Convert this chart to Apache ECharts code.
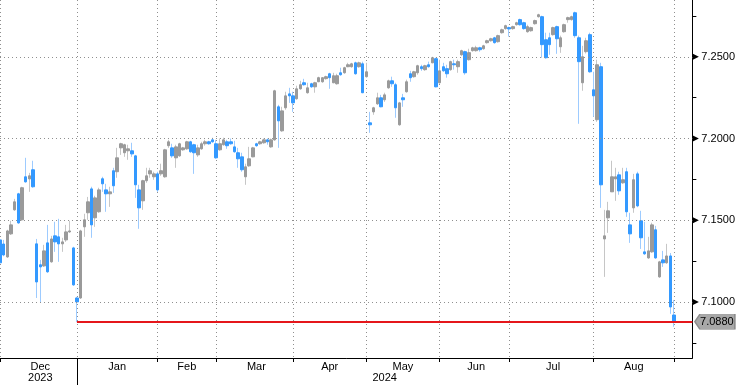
<!DOCTYPE html>
<html><head><meta charset="utf-8">
<script src="https://cdn.jsdelivr.net/npm/echarts@6/dist/echarts.min.js"></script>
<style>html,body{margin:0;padding:0;background:#fff}#c{width:738px;height:385px}</style>
</head><body><div id="c"></div>
<script>
// ---- data ----
const monthNames = ['Dec','Jan','Feb','Mar','Apr','May','Jun','Jul','Aug','Sep'];
const tradingDays = [21,22,16,21,20,20,19,23,22,1];
const yearLabels = ['2023','2024'];
const yTickLabels = [7.10,7.15,7.20,7.25];
const yMinorTicks = [7.075,7.125,7.175,7.225,7.275];
const lastPrice = 7.0880;
const opens = [
7.138,7.1355,7.1276,7.1417,7.1564,7.1662,7.1503,7.1766,7.1753,7.1809,
7.1356,7.1228,7.1221,7.1362,7.1246,7.1405,7.1399,7.1356,7.138,7.1429,
7.1331,7.1025,7.1025,7.146,7.1546,7.1692,7.1515,7.1552,7.1754,7.1686,
7.1662,7.1803,7.1797,7.1943,7.1913,7.1925,7.1925,7.1894,7.1686,7.1619,
7.1742,7.1784,7.1766,7.1784,7.1784,7.1766,7.1956,7.1943,7.1882,7.1894,
7.1931,7.1937,7.198,7.1962,7.19,7.1937,7.1968,7.198,7.1992,7.1968,
7.1931,7.1962,7.198,7.198,7.1949,7.1913,7.1888,7.1766,7.1833,7.1888,
7.1968,7.1968,7.1974,7.1992,7.1949,7.1992,7.2194,7.2047,7.2188,7.2273,
7.2261,7.2243,7.2304,7.2341,7.228,7.2335,7.2316,7.2347,7.2347,7.2366,
7.2396,7.2341,7.2335,7.2402,7.2402,7.2439,7.2439,7.2463,7.2439,7.2457,
7.2378,7.2096,7.2163,7.2212,7.2249,7.2237,7.231,7.2353,7.2329,7.2084,
7.2249,7.2286,7.2396,7.2378,7.2402,7.2439,7.2421,7.2451,7.2463,7.2488,
7.2341,7.2439,7.2427,7.2421,7.2457,7.2439,7.2512,7.2531,7.2482,7.2537,
7.2537,7.2555,7.2549,7.2586,7.2598,7.2616,7.2592,7.2647,7.2672,7.2678,
7.2672,7.2696,7.2727,7.2708,7.2653,7.2659,7.2702,7.2745,7.2745,7.2604,
7.2616,7.2635,7.2684,7.2561,7.2653,7.2727,7.2727,7.2769,7.2616,7.2341,
7.2531,7.2635,7.2298,7.2115,7.2439,7.1386,7.1515,7.1674,7.1753,7.1778,
7.1729,7.1797,7.1472,7.1576,7.1784,7.1497,7.1307,7.127,7.1307,7.1442,
7.1154,7.1258,7.124,7.1282,7.0921];
const closes = [
7.124,7.1288,7.1435,7.1472,7.1613,7.1484,7.1699,7.1735,7.1772,7.1705,
7.1123,7.1215,7.1313,7.1185,7.1386,7.1368,7.1356,7.1368,7.1429,7.1435,
7.1105,7.1001,7.1435,7.1503,7.1613,7.1472,7.1637,7.1686,7.1723,7.1662,
7.1674,7.1711,7.1882,7.1968,7.1962,7.1937,7.1906,7.1717,7.1576,7.1742,
7.1772,7.1803,7.1784,7.1686,7.1803,7.1931,7.198,7.1894,7.1949,7.1968,
7.1943,7.198,7.1919,7.1913,7.1943,7.1968,7.198,7.1968,7.198,7.1882,
7.1968,7.1992,7.1956,7.1968,7.1919,7.1876,7.1809,7.1827,7.1876,7.1943,
7.1956,7.198,7.1992,7.198,7.1992,7.2292,7.2108,7.2169,7.2261,7.2261,
7.2218,7.2304,7.2329,7.2329,7.231,7.2316,7.2341,7.2372,7.2372,7.2378,
7.2372,7.2384,7.2384,7.239,7.2433,7.2451,7.2457,7.2396,7.2463,7.228,
7.2408,7.2084,7.2188,7.2249,7.2194,7.2267,7.2353,7.2335,7.2188,7.2218,
7.2237,7.2347,7.2372,7.2408,7.2445,7.2427,7.2445,7.2439,7.2494,7.2316,
7.2414,7.2414,7.2396,7.247,7.2451,7.247,7.2537,7.2402,7.2525,7.2555,
7.2555,7.2543,7.2567,7.2598,7.261,7.2586,7.2629,7.2665,7.269,7.267,
7.2684,7.2708,7.2696,7.2672,7.2684,7.2678,7.2721,7.2757,7.2574,7.2494,
7.2574,7.2678,7.261,7.2616,7.2696,7.2739,7.2745,7.2629,7.247,7.25,
7.2598,7.2408,7.2261,7.2451,7.1717,7.1405,7.1558,7.1766,7.1766,7.168,
7.1748,7.1552,7.1417,7.1748,7.1588,7.1393,7.1295,7.1313,7.1472,7.127,
7.1246,7.124,7.1282,7.097,7.088];
const lows = [
7.120,7.128,7.127,7.141,7.1558,7.1478,7.1497,7.173,7.1674,7.1699,
7.1025,7.0995,7.1215,7.1178,7.124,7.1307,7.1246,7.1307,7.1368,7.1423,
7.1099,7.0879,7.1019,7.1399,7.1503,7.1393,7.146,7.1546,7.1674,7.1552,
7.1582,7.1668,7.176,7.19,7.1888,7.187,7.1888,7.1637,7.1448,7.1564,
7.1729,7.176,7.1748,7.1674,7.1772,7.176,7.1943,7.1882,7.1821,7.1888,
7.1925,7.1931,7.1913,7.1784,7.1888,7.1931,7.1956,7.1962,7.1974,7.1876,
7.1925,7.1956,7.1937,7.1962,7.1913,7.1821,7.1797,7.1717,7.1827,7.1885,
7.1949,7.1962,7.1968,7.1962,7.1943,7.1986,7.1943,7.2041,7.2176,7.2218,
7.2163,7.2237,7.2298,7.2323,7.2274,7.231,7.228,7.2345,7.2341,7.236,
7.2304,7.2338,7.2329,7.2384,7.2396,7.2436,7.2433,7.239,7.2433,7.2277,
7.2372,7.2035,7.2145,7.2206,7.2191,7.2224,7.2304,7.2316,7.2127,7.2078,
7.2194,7.228,7.2347,7.2372,7.239,7.2414,7.2414,7.2433,7.246,7.2313,
7.2335,7.2408,7.2372,7.2414,7.2421,7.2402,7.2506,7.239,7.2476,7.2531,
7.2531,7.2531,7.2543,7.258,7.2592,7.258,7.2586,7.2641,7.2665,7.2623,
7.2665,7.269,7.269,7.2665,7.2647,7.2653,7.2696,7.2739,7.2494,7.2488,
7.2512,7.2629,7.2518,7.2524,7.2647,7.2708,7.2721,7.2616,7.209,7.2292,
7.252,7.2402,7.2133,7.2102,7.1576,7.1154,7.1423,7.1674,7.1619,7.1656,
7.1723,7.1521,7.1362,7.1546,7.158,7.1325,7.1288,7.1264,7.1301,7.1264,
7.1148,7.1215,7.1234,7.0928,7.0849];
const highs = [
7.139,7.138,7.1442,7.1497,7.1631,7.1668,7.1705,7.1882,7.179,7.1864,
7.1386,7.1258,7.135,7.1472,7.1405,7.1491,7.1509,7.1393,7.1472,7.1497,
7.1338,7.1032,7.1442,7.154,7.1643,7.1705,7.165,7.1699,7.1766,7.1723,
7.1705,7.1821,7.1943,7.1974,7.1968,7.1962,7.1974,7.19,7.1717,7.1748,
7.1821,7.1821,7.1797,7.1797,7.1846,7.1937,7.1992,7.1968,7.1962,7.1974,
7.1949,7.1986,7.1986,7.1968,7.1962,7.198,7.1992,7.1986,7.2005,7.1992,
7.2,7.2005,7.1992,7.2,7.1986,7.1943,7.1913,7.1846,7.1949,7.1949,
7.1974,7.1986,7.2,7.2,7.2,7.2298,7.2206,7.2194,7.2286,7.231,
7.2286,7.2323,7.2353,7.2365,7.2341,7.2341,7.2347,7.2378,7.2374,7.2384,
7.2402,7.2402,7.2396,7.2433,7.2439,7.2463,7.2463,7.247,7.247,7.247,
7.2463,7.2163,7.2194,7.228,7.2267,7.228,7.236,7.2378,7.2341,7.2224,
7.2273,7.236,7.2414,7.2414,7.2451,7.2451,7.2451,7.247,7.25,7.2494,
7.2482,7.2463,7.2451,7.2476,7.2482,7.2482,7.2543,7.2537,7.2549,7.2561,
7.2567,7.2561,7.2573,7.2604,7.2616,7.2622,7.2635,7.2672,7.2696,7.2684,
7.269,7.2714,7.2733,7.2714,7.2696,7.2684,7.2727,7.2763,7.2751,7.2647,
7.2647,7.2684,7.269,7.2629,7.2702,7.2745,7.2751,7.2776,7.2629,7.2567,
7.2616,7.2647,7.2408,7.2482,7.2463,7.1564,7.1613,7.1864,7.1821,7.1797,
7.1821,7.1821,7.1546,7.1784,7.1797,7.1558,7.1491,7.1399,7.1485,7.1466,
7.1252,7.1313,7.1356,7.13,7.1013];

// ---- build categories (one per trading day) ----
const PAD = 5;
const categories = [], monthStart = [];
tradingDays.forEach((n, m) => {
  monthStart.push(categories.length);
  for (let d = 1; d <= n; d++) categories.push(monthNames[m] + ' ' + d);
});
for (let i = 0; i < PAD; i++) categories.push('pad ' + i);
const lastIdx = categories.length - 1;
const monthMid = {};
for (let m = 0; m < monthStart.length - 1; m++) {
  monthMid[Math.round((monthStart[m] + monthStart[m + 1]) / 2)] = monthNames[m];
}
const year2024Start = monthStart[1];
const yearMid = {};
yearMid[Math.round((monthStart[0] + monthStart[1]) / 2)] = yearLabels[0];
yearMid[Math.round((year2024Start + lastIdx) / 2)] = yearLabels[1];

const wickData = opens.map((o, i) => [o, closes[i], lows[i], highs[i]]);
const bodyData = opens.map((o, i) => [o, closes[i], Math.min(o, closes[i]), Math.max(o, closes[i])]);

const FONT = 'Liberation Sans';
const chart = echarts.init(document.getElementById('c'), null, {renderer: 'canvas'});
const gridDot = {color: '#8f8f8f', width: 1, type: [1, 3]};

chart.setOption({
  animation: false,
  grid: {left: 0, top: 0, right: 45.5, bottom: 27, containLabel: false},
  xAxis: [{
    type: 'category', data: categories, boundaryGap: false,
    axisLine: {show: true, lineStyle: {color: '#000', width: 1}},
    axisTick: {show: true, length: 4, lineStyle: {color: '#000'},
      interval: (i) => monthStart.indexOf(i) >= 0},
    axisLabel: {show: true, margin: 3, color: '#000', fontSize: 11, fontFamily: FONT,
      interval: (i) => monthMid[i] !== undefined,
      formatter: (v, i) => monthMid[i] || ''},
    splitLine: {show: true, lineStyle: gridDot,
      interval: (i) => monthStart.indexOf(i) >= 0}
  }, {
    type: 'category', data: categories, boundaryGap: false, position: 'bottom', offset: 4,
    axisLine: {show: false},
    axisTick: {show: true, length: 23, lineStyle: {color: '#000'},
      interval: (i) => i === year2024Start},
    axisLabel: {show: true, margin: 10, color: '#000', fontSize: 11, fontFamily: FONT,
      interval: (i) => yearMid[i] !== undefined,
      formatter: (v, i) => yearMid[i] || ''},
    splitLine: {show: false}
  }],
  yAxis: {
    type: 'value', position: 'right', scale: true, min: 7.0658, max: 7.2847,
    axisLine: {show: true, lineStyle: {color: '#000', width: 1}},
    axisTick: {show: true, length: 4, customValues: yMinorTicks, lineStyle: {color: '#000'}},
    axisLabel: {show: true, margin: 9, color: '#000', fontSize: 11, fontFamily: FONT,
      customValues: yTickLabels, formatter: (v) => v.toFixed(4)},
    splitLine: {show: false}
  },
  series: [{
    type: 'candlestick', name: 'range', data: wickData, barWidth: 1,
    itemStyle: {color: '#c6c6c6', color0: '#9dcbff', borderColor: '#c6c6c6', borderColor0: '#9dcbff', borderWidth: 1},
    markLine: {
      silent: true, symbol: 'none', label: {show: false},
      data: yTickLabels.map(v => ({yAxis: v, lineStyle: gridDot}))
    }
  }, {
    type: 'candlestick', name: 'body', data: bodyData, barWidth: 3,
    itemStyle: {color: '#9a9a9a', color0: '#3399ff', borderColor: '#9a9a9a', borderColor0: '#3399ff', borderWidth: 1},
    markLine: {
      silent: true, symbol: 'none', label: {show: false},
      lineStyle: {color: '#e5161b', width: 2, type: 'solid'},
      data: [[{coord: [categories[monthStart[1]], lastPrice]}, {coord: [categories[lastIdx], lastPrice]}]]
    },
    markPoint: {
      silent: true,
      data: [{
        coord: [categories[lastIdx], lastPrice],
        symbol: 'path://M0,7.5 L5,0 L40,0 L40,15 L5,15 Z',
        symbolSize: [40, 15], symbolOffset: [22.5, 0], symbolKeepAspect: false,
        itemStyle: {color: '#a8a8a8', borderColor: '#8c8c8c', borderWidth: 1},
        label: {show: true, position: 'inside', offset: [2, 0], formatter: lastPrice.toFixed(4),
          color: '#000', fontSize: 11, fontFamily: FONT}
      }].concat(yTickLabels.map(v => ({
        coord: [categories[lastIdx], v],
        symbol: 'path://M0,0 L7,4 L0,8 Z', symbolSize: [6, 6], symbolOffset: [3.5, 0],
        itemStyle: {color: '#000'}, label: {show: false}
      })))
    }
  }]
});
</script>
</body></html>
